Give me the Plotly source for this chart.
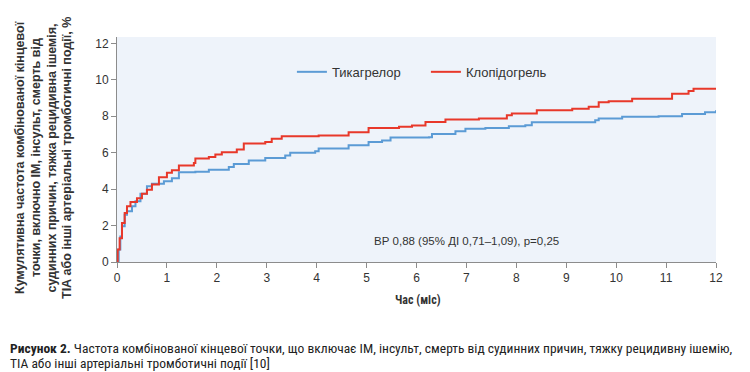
import plotly.graph_objects as go

# Data (months, cumulative %)
ticag_x = [0, 0.033, 0.067, 0.1, 0.154, 0.2, 0.3, 0.37, 0.47, 0.6, 0.7, 0.94, 1.1, 1.24, 1.57, 1.84,
           2.24, 2.34, 2.64, 2.97, 3.37, 3.47, 3.97, 4.04, 4.64, 5.04, 5.31, 5.48, 6.25, 6.31, 6.78,
           6.98, 7.38, 7.85, 8.18, 8.31, 9.58, 9.65, 10.12, 10.85, 11.32, 11.78, 12]
ticag_y = [0, 0.68, 1.4, 1.96, 2.6, 2.78, 3.06, 3.33, 3.75, 4.16, 4.3, 4.43, 4.6, 4.93, 4.95, 5.07,
           5.22, 5.38, 5.57, 5.71, 5.84, 5.99, 6.08, 6.23, 6.41, 6.58, 6.67, 6.83, 6.85, 7.03, 7.18,
           7.31, 7.36, 7.45, 7.51, 7.67, 7.78, 7.88, 7.97, 8.0, 8.13, 8.22, 8.33]

clop_x = [0, 0.013, 0.053, 0.1, 0.154, 0.2, 0.27, 0.4, 0.5, 0.6, 0.7, 0.84, 1.0, 1.1, 1.24, 1.54,
          1.57, 1.84, 1.97, 2.1, 2.3, 2.4, 2.54, 2.97, 3.1, 3.3, 4.04, 4.64, 5.04, 5.65, 5.91, 6.18,
          6.58, 7.25, 7.81, 7.91, 8.41, 9.12, 9.45, 9.65, 9.85, 10.32, 11.12, 11.45, 11.55, 12]
clop_y = [0, 0.68, 1.3, 2.14, 2.69, 3.06, 3.3, 3.5, 3.75, 3.97, 4.25, 4.65, 4.9, 5.04, 5.3, 5.44,
          5.68, 5.77, 5.9, 6.03, 6.03, 6.17, 6.5, 6.58, 6.76, 6.9, 6.94, 7.12, 7.36, 7.42, 7.49, 7.69,
          7.82, 7.88, 8.06, 8.15, 8.33, 8.41, 8.52, 8.77, 8.83, 8.96, 9.23, 9.38, 9.51, 9.56]

x_ticks = list(range(0, 13))
y_ticks = [0, 2, 4, 6, 8, 10, 12]

y_title_lines = [
    "Кумулятивна частота комбінованої кінцевої",
    "точки, включно ІМ, інсульт, смерть від",
    "судинних причин, тяжка рецидивна ішемія,",
    "ТІА або інші артеріальні тромботичні події, %",
]

NARROW = "Liberation Sans Narrow, Arial Narrow, Roboto Condensed, Liberation Sans, sans-serif"
REG = "Liberation Sans, Arial, sans-serif"

fig = go.Figure()
fig.add_trace(go.Scatter(x=ticag_x, y=ticag_y, mode="lines", line_shape="hv",
                         line=dict(color="#5b9bd5", width=2), name="Тикагрелор"))
fig.add_trace(go.Scatter(x=clop_x, y=clop_y, mode="lines", line_shape="hv",
                         line=dict(color="#e8382a", width=2), name="Клопідогрель"))

# page body has an 8px margin, so the figure is sized/offset to compensate
fig.update_layout(
    width=742, height=364,
    margin=dict(l=109, r=34, t=29, b=110),
    paper_bgcolor="white", plot_bgcolor="#eef3fa",
    font=dict(family=REG, size=12, color="#333333"),
    showlegend=True,
    legend=dict(orientation="h", x=0.292, y=0.845, xanchor="left", yanchor="middle",
                bgcolor="rgba(0,0,0,0)", font=dict(size=13, color="#333333", family=REG),
                itemwidth=30, tracegroupgap=0, entrywidth=89),
)
fig.update_xaxes(range=[0, 12], tickvals=x_ticks, showgrid=False, zeroline=False,
                 showline=True, linecolor="#8c8c8c", linewidth=1,
                 ticks="outside", ticklen=5, tickcolor="#8c8c8c",
                 tickfont=dict(size=12, color="#333333"))
fig.update_yaxes(range=[0, 12.35], tickvals=y_ticks, showgrid=False, zeroline=False,
                 showline=True, linecolor="#8c8c8c", linewidth=1,
                 ticks="outside", ticklen=5, tickcolor="#8c8c8c",
                 tickfont=dict(size=12, color="#333333"))

def px_x(p):
    return (p - 117) / 599.0

def px_y(p):
    return (262 - p) / 225.0

for line, cx in zip(y_title_lines, [20, 36, 51.5, 67]):
    fig.add_annotation(text="<b>" + line + "</b>", xref="paper", yref="paper",
                       x=px_x(cx), y=px_y(158), xanchor="center", yanchor="middle",
                       textangle=-90, showarrow=False,
                       font=dict(size=12.5, color="#333333", family=REG))

fig.add_annotation(text="<b>Час (міс)</b>", xref="paper", yref="paper",
                   x=px_x(418), y=px_y(300), xanchor="center", yanchor="middle",
                   showarrow=False, font=dict(size=12, color="#333333", family=NARROW))

fig.add_annotation(text="ВР 0,88 (95% ДІ 0,71–1,09), р=0,25",
                   xref="paper", yref="paper", x=px_x(466), y=px_y(241),
                   xanchor="center", yanchor="middle", showarrow=False,
                   font=dict(size=11.5, color="#333333", family=REG))

fig.add_annotation(text=("<b>Рисунок 2.</b> Частота комбінованої кінцевої точки, що включає ІМ, інсульт, "
                         "смерть від судинних причин, тяжку рецидивну ішемію,"),
                   xref="paper", yref="paper", x=px_x(8), y=px_y(348),
                   xanchor="left", yanchor="middle", showarrow=False, align="left",
                   font=dict(size=13.5, color="#222222", family=NARROW))
fig.add_annotation(text="ТІА або інші артеріальні тромботичні події [10]",
                   xref="paper", yref="paper", x=px_x(8), y=px_y(363),
                   xanchor="left", yanchor="middle", showarrow=False, align="left",
                   font=dict(size=13.5, color="#222222", family=NARROW))

fig.write_html("out.html")
